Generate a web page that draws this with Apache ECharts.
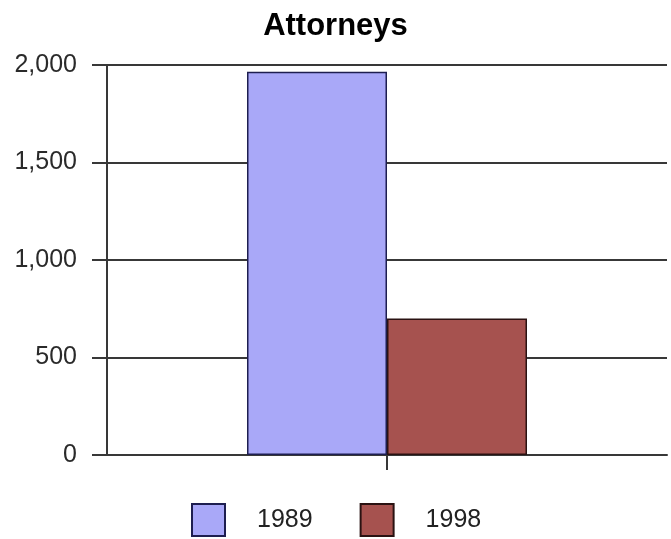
<!DOCTYPE html>
<html>
<head>
<meta charset="utf-8">
<script src="https://cdn.jsdelivr.net/npm/echarts@6/dist/echarts.min.js"></script>
<style>
html,body{margin:0;padding:0;background:#fff;}
#chart{width:671px;height:539px;}
</style>
</head>
<body>
<div id="chart"></div>
<script>
var categories = [''];
var seriesNames = ['1989', '1998'];
var values1989 = [1965];
var values1998 = [700];
var yTicks = [0, 500, 1000, 1500, 2000];

var chart = echarts.init(document.getElementById('chart'));
var font = 'Liberation Sans, Arial, sans-serif';
var lineColor = '#383838';
chart.setOption({
  animation: false,
  backgroundColor: '#ffffff',
  title: {
    text: 'Attorneys',
    left: 'center',
    top: 6,
    textStyle: { fontFamily: font, fontSize: 31, fontWeight: 'bold', color: '#000' }
  },
  legend: {
    data: seriesNames,
    left: 191,
    top: 503,
    padding: 0,
    icon: 'rect',
    itemWidth: 33,
    itemHeight: 32,
    itemGap: 47,
    textStyle: { fontFamily: font, fontSize: 25, color: '#222', padding: [0, 0, 0, 27] }
  },
  grid: { left: 107, right: 4, top: 65, bottom: 84 },
  xAxis: {
    type: 'category',
    data: categories,
    axisLine: { lineStyle: { color: lineColor, width: 2 } },
    axisTick: { show: true, alignWithLabel: true, length: 15, lineStyle: { color: lineColor, width: 2 } },
    axisLabel: { show: false }
  },
  yAxis: {
    type: 'value',
    min: yTicks[0],
    max: yTicks[yTicks.length - 1],
    interval: yTicks[1] - yTicks[0],
    axisLine: { show: true, lineStyle: { color: lineColor, width: 2 } },
    axisTick: { show: true, length: 15, lineStyle: { color: lineColor, width: 2 } },
    axisLabel: {
      margin: 30,
      fontFamily: font,
      fontSize: 25,
      color: '#2a2a2a',
      formatter: function (v) { return v.toLocaleString('en-US'); }
    },
    splitLine: { show: true, lineStyle: { color: lineColor, width: 2 } }
  },
  series: [
    {
      name: seriesNames[0],
      type: 'bar',
      data: values1989,
      barGap: '0%',
      barCategoryGap: '50%',
      itemStyle: { color: '#A9A8F8', borderColor: '#1E1E50', borderWidth: 1.5 }
    },
    {
      name: seriesNames[1],
      type: 'bar',
      data: values1998,
      barGap: '0%',
      barCategoryGap: '50%',
      itemStyle: { color: '#A6524F', borderColor: '#2A1212', borderWidth: 1.5 }
    }
  ]
});
</script>
</body>
</html>
